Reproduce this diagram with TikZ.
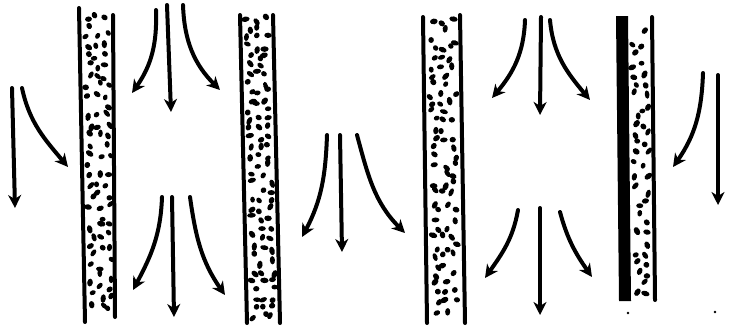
\documentclass[tikz,border=0pt]{standalone}
\usetikzlibrary{arrows.meta}
\begin{document}
\begin{tikzpicture}[x=1pt,y=1pt,
  flow/.style={line width=4pt,line cap=round,-{Stealth[length=13,width=13,inset=4]}},
  wallline/.style={line width=4pt,line cap=round},
  speck/.style={fill=black}]
\useasboundingbox (0,0) rectangle (730,-333);
% ---------- stipple: jittered grid of dots ----------
% #1 x-left at top, #2 x-left at bottom, #3 top, #4 bottom, #5 inner width, #6 columns, #7 row step, #8 seed
\newcommand{\stipple}[8]{%
  \pgfmathsetseed{#8}
  \pgfmathtruncatemacro\nrows{(#4-#3)/#7}
  \pgfmathsetmacro\colw{(#5-6)/#6}
  \foreach \r in {0,...,\nrows}{
    \foreach \c in {1,...,#6}{
      \pgfmathsetmacro\tt{\r/\nrows}
      \pgfmathsetmacro\px{#1+(#2-#1)*\tt+3+(\c-0.5)*\colw+(rnd-0.5)*\colw*0.7}
      \pgfmathsetmacro\py{-(#3+\r*#7+(rnd-0.5)*#7*0.7)}
      \pgfmathsetmacro\ra{2.9+1.5*rnd}
      \pgfmathsetmacro\rb{2.3+0.6*rnd}
      \pgfmathsetmacro\ang{180*rnd}
      \pgfmathsetmacro\keep{rnd}
      \ifdim\keep pt>0.15pt
        \fill[shift={(\px,\py)},rotate=\ang] (0,0) ellipse (\ra pt and \rb pt);
      \fi
    }}}
% wall 1
\draw[wallline] (79,-8) -- (85,-322);
\draw[wallline] (113,-15) -- (115,-317);
\stipple{80}{85}{16}{314}{33}{3}{10}{11}
% wall 2
\draw[wallline] (240,-15) -- (247,-323);
\draw[wallline] (273,-15) -- (280,-323);
\stipple{241}{248}{20}{318}{32}{3}{9}{23}
% wall 3
\draw[wallline] (423,-17) -- (427,-323);
\draw[wallline] (460,-15) -- (465,-323);
\stipple{424}{428}{22}{318}{36}{3}{9}{37}
% wall 4
\fill (616,-16) -- (628,-16) -- (631,-301) -- (619,-301) -- cycle;
\draw[wallline] (652,-17) -- (655,-300);
\stipple{627}{630}{24}{294}{25}{2}{10}{53}
% ---------- arrows ----------
% far left
\coordinate (a1s) at (12,-88);  \coordinate (a1e) at (15,-208);
\coordinate (a2s) at (22,-88);  \coordinate (a2e) at (68,-167);
\draw[flow] (a1s) -- (a1e);
\draw[flow] (a2s) to[out=-78,in=130] (a2e);
% between walls 1 and 2, top
\coordinate (b1s) at (167,-5);  \coordinate (b1e) at (171,-112);
\coordinate (b2s) at (156,-10); \coordinate (b2e) at (132,-93);
\coordinate (b3s) at (183,-5);  \coordinate (b3e) at (220,-90);
\draw[flow] (b1s) -- (b1e);
\draw[flow] (b2s) to[out=-88,in=55] (b2e);
\draw[flow] (b3s) to[out=-88,in=135] (b3e);
% between walls 1 and 2, bottom
\coordinate (c1s) at (172,-197); \coordinate (c1e) at (174,-317);
\coordinate (c2s) at (162,-197); \coordinate (c2e) at (133,-290);
\coordinate (c3s) at (190,-197); \coordinate (c3e) at (225,-295);
\draw[flow] (c1s) -- (c1e);
\draw[flow] (c2s) to[out=-92,in=62] (c2e);
\draw[flow] (c3s) to[out=-82,in=125] (c3e);
% middle
\coordinate (d1s) at (340,-135); \coordinate (d1e) at (342,-252);
\coordinate (d2s) at (327,-135); \coordinate (d2e) at (302,-237);
\coordinate (d3s) at (357,-135); \coordinate (d3e) at (405,-233);
\draw[flow] (d1s) -- (d1e);
\draw[flow] (d2s) to[out=-92,in=62] (d2e);
\draw[flow] (d3s) to[out=-75,in=135] (d3e);
% right of wall 3, top
\coordinate (e1s) at (541,-17);  \coordinate (e1e) at (540,-115);
\coordinate (e2s) at (525,-20);  \coordinate (e2e) at (492,-98);
\coordinate (e3s) at (550,-20);  \coordinate (e3e) at (590,-100);
\draw[flow] (e1s) -- (e1e);
\draw[flow] (e2s) to[out=-92,in=50] (e2e);
\draw[flow] (e3s) to[out=-85,in=130] (e3e);
% right of wall 3, bottom
\coordinate (f1s) at (540,-208); \coordinate (f1e) at (540,-315);
\coordinate (f2s) at (518,-210); \coordinate (f2e) at (485,-278);
\coordinate (f3s) at (560,-212); \coordinate (f3e) at (592,-277);
\draw[flow] (f1s) -- (f1e);
\draw[flow] (f2s) to[out=-100,in=55] (f2e);
\draw[flow] (f3s) to[out=-75,in=125] (f3e);
% far right
\coordinate (g1s) at (703,-73);  \coordinate (g1e) at (673,-167);
\coordinate (g2s) at (718,-75);  \coordinate (g2e) at (718,-205);
\draw[flow] (g1s) to[out=-92,in=55] (g1e);
\draw[flow] (g2s) -- (g2e);
% specks
\fill[speck] (628,-313) circle (1.4);
\fill[speck] (715,-312) circle (1.4);
\end{tikzpicture}
\end{document}
